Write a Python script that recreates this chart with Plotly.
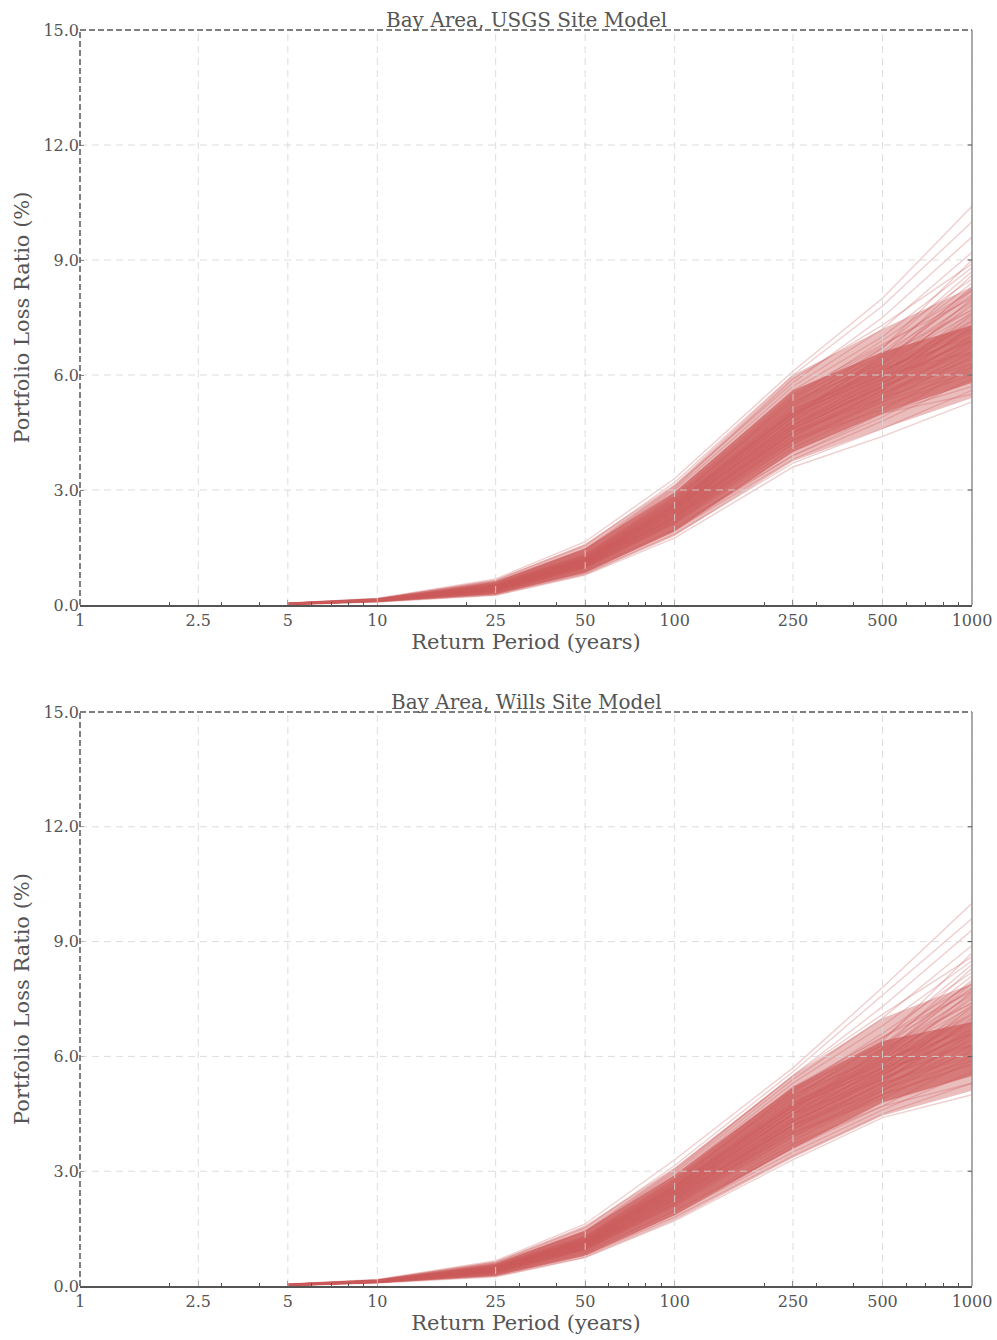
import plotly.graph_objects as go

return_periods = [5, 10, 25, 50, 100, 250, 500, 1000]

# dense core of each bundle (where the hundreds of curves overlap), outer and inner
usgs_outer_low = [0.00, 0.07, 0.25, 0.78, 1.80, 3.75, 4.60, 5.40]
usgs_outer_high = [0.04, 0.16, 0.66, 1.60, 3.15, 6.00, 7.20, 8.30]
usgs_inner_low = [0.01, 0.08, 0.28, 0.84, 1.92, 4.00, 5.00, 5.80]
usgs_inner_high = [0.03, 0.14, 0.60, 1.48, 2.95, 5.60, 6.60, 7.30]
wills_outer_low = [0.00, 0.07, 0.24, 0.74, 1.72, 3.35, 4.45, 5.10]
wills_outer_high = [0.04, 0.16, 0.64, 1.58, 3.10, 5.50, 7.00, 7.90]
wills_inner_low = [0.01, 0.08, 0.27, 0.80, 1.85, 3.60, 4.80, 5.50]
wills_inner_high = [0.03, 0.14, 0.58, 1.45, 2.90, 5.20, 6.40, 6.90]

usgs_curves = [
    [0.01, 0.08, 0.25, 0.78, 1.75, 3.6, 4.4, 5.3],
    [0.01, 0.09, 0.28, 0.82, 1.85, 3.7, 4.6, 5.6],
    [0.02, 0.10, 0.30, 0.85, 1.95, 3.8, 4.8, 5.9],
    [0.01, 0.09, 0.32, 0.90, 2.00, 4.0, 5.0, 5.7],
    [0.02, 0.10, 0.33, 0.92, 2.05, 3.9, 4.9, 6.2],
    [0.02, 0.11, 0.35, 0.95, 2.10, 4.1, 5.2, 6.0],
    [0.02, 0.10, 0.36, 0.98, 2.15, 4.2, 5.3, 6.5],
    [0.02, 0.11, 0.38, 1.00, 2.20, 4.3, 5.1, 6.3],
    [0.02, 0.12, 0.40, 1.02, 2.25, 4.4, 5.5, 6.8],
    [0.03, 0.12, 0.40, 1.05, 2.30, 4.5, 5.4, 6.6],
    [0.02, 0.11, 0.42, 1.08, 2.35, 4.6, 5.7, 7.0],
    [0.03, 0.12, 0.43, 1.10, 2.40, 4.5, 5.6, 6.4],
    [0.03, 0.13, 0.45, 1.12, 2.45, 4.7, 5.8, 7.2],
    [0.02, 0.12, 0.45, 1.15, 2.50, 4.8, 6.0, 7.5],
    [0.03, 0.13, 0.47, 1.18, 2.55, 4.9, 5.9, 6.9],
    [0.03, 0.14, 0.48, 1.20, 2.60, 5.0, 6.2, 7.8],
    [0.03, 0.13, 0.50, 1.22, 2.65, 5.1, 6.1, 7.3],
    [0.04, 0.14, 0.52, 1.25, 2.70, 5.2, 6.4, 8.1],
    [0.03, 0.14, 0.53, 1.28, 2.75, 5.3, 6.3, 7.6],
    [0.04, 0.15, 0.55, 1.30, 2.80, 5.4, 6.6, 8.4],
    [0.04, 0.14, 0.56, 1.33, 2.85, 5.5, 6.8, 8.0],
    [0.04, 0.15, 0.58, 1.36, 2.90, 5.6, 7.0, 8.8],
    [0.04, 0.16, 0.60, 1.40, 3.00, 5.7, 7.2, 9.2],
    [0.05, 0.16, 0.62, 1.45, 3.10, 5.8, 7.5, 9.6],
    [0.05, 0.17, 0.65, 1.55, 3.20, 6.0, 7.8, 10.0],
    [0.05, 0.17, 0.68, 1.65, 3.30, 6.1, 8.0, 10.4],
    [0.02, 0.11, 0.38, 1.04, 2.30, 4.6, 5.9, 7.4],
    [0.03, 0.12, 0.44, 1.14, 2.50, 4.9, 6.5, 8.6],
    [0.03, 0.13, 0.49, 1.20, 2.62, 5.2, 6.7, 9.0],
    [0.02, 0.12, 0.41, 1.06, 2.28, 4.3, 5.3, 6.1],
    [0.03, 0.13, 0.46, 1.16, 2.52, 4.7, 5.7, 6.7],
    [0.04, 0.14, 0.51, 1.24, 2.68, 5.0, 6.0, 7.1],
    [0.03, 0.12, 0.42, 1.10, 2.42, 4.8, 6.3, 8.2],
    [0.02, 0.10, 0.34, 0.96, 2.12, 4.2, 5.4, 6.9],
    [0.04, 0.15, 0.54, 1.30, 2.78, 5.3, 6.5, 7.7],
    [0.03, 0.13, 0.47, 1.19, 2.58, 5.0, 6.0, 6.6],
    [0.05, 0.16, 0.60, 1.42, 3.05, 5.9, 7.3, 8.9],
    [0.02, 0.11, 0.37, 1.00, 2.18, 4.4, 5.6, 7.3],
    [0.03, 0.14, 0.50, 1.26, 2.72, 5.4, 6.9, 8.5],
    [0.02, 0.10, 0.31, 0.88, 1.98, 3.9, 5.0, 5.5],
    [0.02, 0.11, 0.36, 0.97, 2.14, 4.25, 5.35, 6.45],
    [0.02, 0.11, 0.37, 0.99, 2.18, 4.35, 5.45, 6.75],
    [0.02, 0.12, 0.39, 1.01, 2.22, 4.40, 5.60, 7.05],
    [0.03, 0.12, 0.40, 1.03, 2.26, 4.45, 5.50, 6.55],
    [0.03, 0.12, 0.41, 1.05, 2.30, 4.55, 5.75, 7.25],
    [0.03, 0.12, 0.42, 1.07, 2.33, 4.60, 5.65, 6.85],
    [0.03, 0.13, 0.43, 1.09, 2.37, 4.65, 5.85, 7.45],
    [0.03, 0.13, 0.44, 1.11, 2.40, 4.70, 5.95, 7.65],
    [0.03, 0.13, 0.45, 1.13, 2.44, 4.75, 5.80, 6.95],
    [0.03, 0.13, 0.46, 1.15, 2.47, 4.85, 6.05, 7.55],
    [0.03, 0.13, 0.47, 1.17, 2.51, 4.90, 6.15, 7.85],
    [0.03, 0.13, 0.48, 1.19, 2.55, 4.95, 6.10, 7.35],
    [0.03, 0.14, 0.49, 1.21, 2.59, 5.05, 6.25, 7.95],
    [0.04, 0.14, 0.50, 1.23, 2.63, 5.10, 6.35, 7.70],
    [0.04, 0.14, 0.51, 1.25, 2.67, 5.15, 6.45, 8.25],
    [0.04, 0.14, 0.52, 1.27, 2.71, 5.25, 6.55, 8.05],
    [0.03, 0.12, 0.41, 1.06, 2.34, 4.50, 5.55, 6.30],
    [0.03, 0.12, 0.43, 1.10, 2.41, 4.62, 5.70, 6.60],
    [0.03, 0.13, 0.45, 1.14, 2.48, 4.78, 5.90, 7.15],
    [0.04, 0.14, 0.49, 1.22, 2.62, 5.08, 6.20, 7.40],
    [0.02, 0.11, 0.38, 1.01, 2.24, 4.48, 5.68, 7.60],
    [0.03, 0.12, 0.42, 1.08, 2.36, 4.68, 6.00, 8.00],
    [0.03, 0.13, 0.46, 1.16, 2.52, 4.92, 6.30, 8.30],
    [0.04, 0.14, 0.53, 1.29, 2.76, 5.35, 6.70, 8.70],
    [0.02, 0.11, 0.36, 0.98, 2.16, 4.30, 5.40, 6.20],
    [0.03, 0.13, 0.47, 1.18, 2.56, 5.00, 6.40, 7.90],
    [0.03, 0.12, 0.44, 1.12, 2.44, 4.80, 6.10, 7.20],
    [0.04, 0.15, 0.55, 1.32, 2.82, 5.45, 6.75, 8.20],
    [0.02, 0.12, 0.40, 1.04, 2.28, 4.52, 5.80, 6.90],
    [0.03, 0.13, 0.48, 1.20, 2.60, 5.02, 6.15, 7.00],
]

wills_curves = [
    [0.01, 0.08, 0.24, 0.74, 1.70, 3.3, 4.4, 5.0],
    [0.01, 0.09, 0.27, 0.80, 1.80, 3.4, 4.5, 5.3],
    [0.02, 0.09, 0.29, 0.83, 1.88, 3.5, 4.6, 5.6],
    [0.01, 0.10, 0.31, 0.88, 1.95, 3.6, 4.8, 5.5],
    [0.02, 0.10, 0.32, 0.90, 2.00, 3.7, 4.7, 5.9],
    [0.02, 0.10, 0.34, 0.93, 2.05, 3.8, 5.0, 5.8],
    [0.02, 0.11, 0.35, 0.96, 2.10, 3.9, 5.0, 6.2],
    [0.02, 0.11, 0.37, 0.98, 2.15, 4.0, 4.9, 6.0],
    [0.02, 0.11, 0.39, 1.00, 2.20, 4.1, 5.2, 6.5],
    [0.03, 0.12, 0.40, 1.03, 2.25, 4.2, 5.1, 6.3],
    [0.02, 0.12, 0.41, 1.06, 2.30, 4.3, 5.4, 6.7],
    [0.03, 0.12, 0.42, 1.08, 2.35, 4.2, 5.3, 6.1],
    [0.03, 0.13, 0.44, 1.10, 2.40, 4.4, 5.5, 6.9],
    [0.02, 0.12, 0.44, 1.13, 2.45, 4.5, 5.7, 7.2],
    [0.03, 0.13, 0.46, 1.16, 2.50, 4.6, 5.6, 6.6],
    [0.03, 0.13, 0.47, 1.18, 2.55, 4.7, 5.9, 7.5],
    [0.03, 0.13, 0.49, 1.20, 2.60, 4.8, 5.8, 7.0],
    [0.04, 0.14, 0.51, 1.23, 2.65, 4.9, 6.1, 7.8],
    [0.03, 0.14, 0.52, 1.26, 2.70, 5.0, 6.0, 7.3],
    [0.04, 0.14, 0.54, 1.28, 2.75, 5.1, 6.3, 8.1],
    [0.04, 0.14, 0.55, 1.31, 2.80, 5.2, 6.5, 7.7],
    [0.04, 0.15, 0.57, 1.34, 2.88, 5.3, 6.8, 8.5],
    [0.04, 0.15, 0.59, 1.38, 2.95, 5.4, 7.0, 8.9],
    [0.05, 0.16, 0.61, 1.43, 3.05, 5.5, 7.3, 9.3],
    [0.05, 0.16, 0.63, 1.52, 3.15, 5.6, 7.6, 9.6],
    [0.05, 0.17, 0.66, 1.62, 3.30, 5.7, 7.8, 10.0],
    [0.02, 0.11, 0.38, 1.02, 2.28, 4.3, 5.6, 7.1],
    [0.03, 0.12, 0.43, 1.12, 2.48, 4.6, 6.2, 8.3],
    [0.03, 0.13, 0.48, 1.19, 2.60, 4.9, 6.4, 8.7],
    [0.02, 0.12, 0.40, 1.04, 2.25, 4.0, 5.0, 5.8],
    [0.03, 0.13, 0.45, 1.14, 2.48, 4.5, 5.4, 6.4],
    [0.04, 0.14, 0.50, 1.22, 2.63, 4.7, 5.7, 6.8],
    [0.03, 0.12, 0.41, 1.08, 2.38, 4.5, 6.0, 7.9],
    [0.02, 0.10, 0.33, 0.94, 2.08, 3.9, 5.1, 6.6],
    [0.04, 0.14, 0.53, 1.28, 2.74, 5.0, 6.2, 7.4],
    [0.03, 0.13, 0.46, 1.17, 2.55, 4.7, 5.7, 6.3],
    [0.05, 0.15, 0.58, 1.40, 3.00, 5.5, 7.1, 8.6],
    [0.02, 0.11, 0.36, 0.98, 2.15, 4.1, 5.3, 7.0],
    [0.03, 0.13, 0.49, 1.24, 2.68, 5.1, 6.6, 8.2],
    [0.02, 0.10, 0.30, 0.86, 1.96, 3.6, 4.7, 5.3],
    [0.02, 0.11, 0.35, 0.95, 2.12, 3.95, 5.10, 6.15],
    [0.02, 0.11, 0.36, 0.97, 2.16, 4.05, 5.20, 6.45],
    [0.02, 0.11, 0.38, 0.99, 2.20, 4.10, 5.35, 6.75],
    [0.03, 0.12, 0.39, 1.01, 2.24, 4.15, 5.25, 6.25],
    [0.03, 0.12, 0.40, 1.03, 2.28, 4.25, 5.50, 6.95],
    [0.03, 0.12, 0.41, 1.05, 2.31, 4.30, 5.40, 6.55],
    [0.03, 0.12, 0.42, 1.07, 2.35, 4.35, 5.60, 7.15],
    [0.03, 0.13, 0.43, 1.09, 2.38, 4.40, 5.70, 7.35],
    [0.03, 0.13, 0.44, 1.11, 2.42, 4.45, 5.55, 6.65],
    [0.03, 0.13, 0.45, 1.13, 2.45, 4.55, 5.80, 7.25],
    [0.03, 0.13, 0.46, 1.15, 2.49, 4.60, 5.90, 7.55],
    [0.03, 0.13, 0.47, 1.17, 2.53, 4.65, 5.85, 7.05],
    [0.03, 0.13, 0.48, 1.19, 2.57, 4.75, 6.00, 7.65],
    [0.04, 0.14, 0.49, 1.21, 2.61, 4.80, 6.10, 7.40],
    [0.04, 0.14, 0.50, 1.23, 2.65, 4.85, 6.20, 7.95],
    [0.04, 0.14, 0.51, 1.25, 2.69, 4.95, 6.30, 7.75],
    [0.03, 0.12, 0.40, 1.04, 2.32, 4.20, 5.30, 6.00],
    [0.03, 0.12, 0.42, 1.08, 2.39, 4.32, 5.45, 6.30],
    [0.03, 0.13, 0.44, 1.12, 2.46, 4.48, 5.65, 6.85],
    [0.04, 0.14, 0.48, 1.20, 2.60, 4.78, 5.95, 7.10],
    [0.02, 0.11, 0.37, 0.99, 2.22, 4.18, 5.43, 7.30],
    [0.03, 0.12, 0.41, 1.06, 2.34, 4.38, 5.75, 7.70],
    [0.03, 0.13, 0.45, 1.14, 2.50, 4.62, 6.05, 8.00],
    [0.04, 0.14, 0.52, 1.27, 2.74, 5.05, 6.45, 8.40],
    [0.02, 0.11, 0.35, 0.96, 2.14, 4.00, 5.15, 5.90],
    [0.03, 0.13, 0.46, 1.16, 2.54, 4.70, 6.15, 7.60],
    [0.03, 0.12, 0.43, 1.10, 2.42, 4.50, 5.85, 6.90],
    [0.04, 0.15, 0.54, 1.30, 2.80, 5.15, 6.50, 7.90],
    [0.02, 0.12, 0.39, 1.02, 2.26, 4.22, 5.55, 6.60],
    [0.03, 0.13, 0.47, 1.18, 2.58, 4.72, 5.90, 6.70],
]

x_tickvals = [1, 2.5, 5, 10, 25, 50, 100, 250, 500, 1000]
x_ticktext = ["1", "2.5", "5", "10", "25", "50", "100", "250", "500", "1000"]
x_minor = [2, 3, 4, 6, 7, 8, 9, 20, 30, 40, 60, 70, 80, 90, 200, 300, 400, 600, 700, 800, 900]
y_tickvals = [0, 3, 6, 9, 12, 15]

titles = ["Bay Area, USGS Site Model", "Bay Area, Wills Site Model"]
panels = [
    (usgs_curves, [(usgs_outer_low, usgs_outer_high), (usgs_inner_low, usgs_inner_high)]),
    (wills_curves, [(wills_outer_low, wills_outer_high), (wills_inner_low, wills_inner_high)]),
]

FONT = "DejaVu Serif"
TXT = "#555555"
LINE_COLOR = "rgba(205,92,92,0.30)"
BAND_COLORS = ["rgba(205,92,92,0.40)", "rgba(205,92,92,0.70)"]

fig = go.Figure()
axes = [("x", "y"), ("x2", "y2")]
for (xa, ya), (curves, bands) in zip(axes, panels):
    for (lo, hi), bc in zip(bands, BAND_COLORS):
        fig.add_trace(go.Scatter(x=return_periods, y=lo, mode="lines", line=dict(width=0, color=bc),
                                 xaxis=xa, yaxis=ya, showlegend=False, hoverinfo="skip"))
        fig.add_trace(go.Scatter(x=return_periods, y=hi, mode="lines", line=dict(width=0, color=bc),
                                 fill="tonexty", fillcolor=bc,
                                 xaxis=xa, yaxis=ya, showlegend=False, hoverinfo="skip"))
    for c in curves:
        fig.add_trace(go.Scatter(x=return_periods, y=c, mode="lines",
                                 line=dict(color=LINE_COLOR, width=1.4),
                                 xaxis=xa, yaxis=ya, showlegend=False,
                                 hoverinfo="skip"))

top_dom = [0.5422, 1.0]
bot_dom = [0.0, 0.457]

def xaxis_cfg(anchor):
    return dict(type="log", range=[0, 3], tickvals=x_tickvals, ticktext=x_ticktext,
                ticks="inside", ticklen=5, tickcolor="#555", showgrid=False,
                showline=True, linecolor="#555", linewidth=1.5, zeroline=False,
                anchor=anchor, automargin=False,
                tickfont=dict(family=FONT, size=16, color=TXT),
                minor=dict(tickvals=x_minor, ticks="inside", ticklen=3, tickcolor="#555", showgrid=False),
                title=dict(text="Return Period (years)", font=dict(family=FONT, size=21, color=TXT), standoff=4))

def yaxis_cfg(anchor, dom):
    return dict(range=[0, 15], tickvals=y_tickvals, tickformat=".1f", domain=dom,
                ticks="inside", ticklen=4, tickcolor="#555", showgrid=False,
                showline=False, zeroline=False, anchor=anchor, automargin=False,
                tickfont=dict(family=FONT, size=16, color=TXT),
                title=dict(text="Portfolio Loss Ratio (%)", font=dict(family=FONT, size=21, color=TXT), standoff=8))

fig.update_layout(
    width=997, height=1340,
    margin=dict(l=80, r=25, t=30, b=54, autoexpand=False),
    paper_bgcolor="white", plot_bgcolor="white",
    xaxis=xaxis_cfg("y"), yaxis=yaxis_cfg("x", top_dom),
    xaxis2=xaxis_cfg("y2"), yaxis2=yaxis_cfg("x2", bot_dom),
)

GRID = dict(color="rgba(215,215,215,0.85)", width=1, dash="7px,5px")
SPINE = dict(color="#555", width=1.5, dash="6px,3px")
shapes = []
annotations = []
for (xa, ya), title in zip(axes, titles):
    for xv in x_tickvals[1:]:
        shapes.append(dict(type="line", xref=xa, yref=ya + " domain", x0=xv, x1=xv, y0=0, y1=1,
                           line=GRID, layer="above"))
    for yv in y_tickvals[1:-1]:
        shapes.append(dict(type="line", xref=xa + " domain", yref=ya, x0=0, x1=1, y0=yv, y1=yv,
                           line=GRID, layer="above"))
    shapes.append(dict(type="line", xref=xa + " domain", yref=ya + " domain", x0=0, x1=1, y0=1, y1=1,
                       line=SPINE, layer="above"))
    shapes.append(dict(type="line", xref=xa + " domain", yref=ya + " domain", x0=0, x1=0, y0=0, y1=1,
                       line=SPINE, layer="above"))
    shapes.append(dict(type="line", xref=xa + " domain", yref=ya + " domain", x0=1, x1=1, y0=0, y1=1,
                       line=dict(color="#888", width=1.4), layer="above"))
    for yv in y_tickvals[1:-1]:
        shapes.append(dict(type="line", xref=xa + " domain", yref=ya, x0=0.995, x1=1, y0=yv, y1=yv,
                           line=dict(color="#555", width=1), layer="above"))
    annotations.append(dict(text=title, xref=xa + " domain", yref=ya + " domain", x=0.5, y=1,
                            xanchor="center", yanchor="bottom", yshift=-4, showarrow=False,
                            font=dict(family=FONT, size=20, color=TXT)))

fig.update_layout(shapes=shapes, annotations=annotations)
fig.write_html("out.html", post_script="document.body.style.margin='0px';",
               config={"displayModeBar": False})
